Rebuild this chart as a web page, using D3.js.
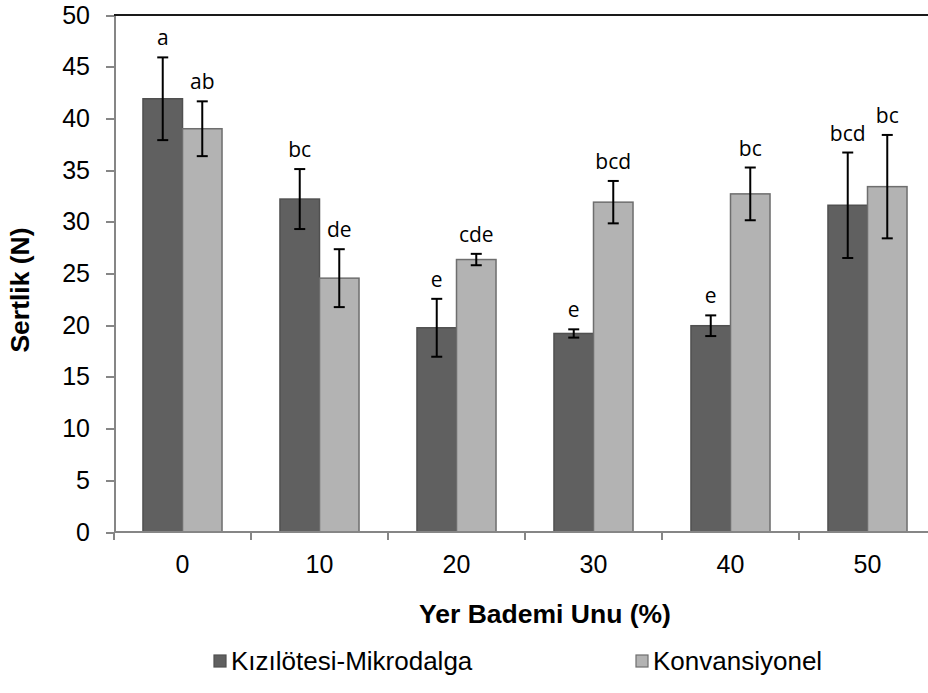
<!DOCTYPE html>
<html>
<meta charset="utf-8">
<style>
body {
  margin: 0;
  background: #fff;
}
svg {
  display: block;
  font-family: 'Liberation Sans', Arial, sans-serif;
}
.axis path, .axis line {
  stroke: #868686;
  stroke-width: 2;
  shape-rendering: crispEdges;
}
.axis text {
  font-size: 25px;
  fill: #000;
}
.title {
  font-size: 26.5px;
  font-weight: bold;
}
.letter {
  font-family: 'Open Sans', sans-serif;
  font-size: 21px;
}
.legend text {
  font-size: 26px;
}
.err {
  stroke: #000;
  stroke-width: 2;
}
</style>
<body>
<svg width="928" height="693"></svg>
<script src="https://cdnjs.cloudflare.com/ajax/libs/d3/7.8.5/d3.min.js"></script>
<script>

var categories = ["0", "10", "20", "30", "40", "50"];
var seriesNames = ["Kızılötesi-Mikrodalga", "Konvansiyonel"];

var mikrodalga = [41.9, 32.2, 19.75, 19.2, 19.95, 31.6];
var mikrodalgaErr = [4.0, 2.9, 2.8, 0.4, 1.0, 5.1];
var mikrodalgaLetters = ["a", "bc", "e", "e", "e", "bcd"];

var konvansiyonel = [39.0, 24.55, 26.35, 31.9, 32.7, 33.4];
var konvansiyonelErr = [2.65, 2.8, 0.55, 2.05, 2.55, 5.0];
var konvansiyonelLetters = ["ab", "de", "cde", "bcd", "bc", "bc"];

var yTicks = [0, 5, 10, 15, 20, 25, 30, 35, 40, 45, 50];

var colors = ["#606060", "#b3b3b3"];
var borders = ["#505050", "#6e6e6e"];

var svg = d3.select("svg"),
  margin = { top: 15, right: -8, bottom: 161, left: 114 },
  width = +svg.attr("width") - margin.left - margin.right,
  height = +svg.attr("height") - margin.top - margin.bottom;

var g = svg.append("g")
  .attr("transform", "translate(" + margin.left + "," + margin.top + ")");

var x = d3.scaleBand().domain(categories).range([0, width])
  .paddingInner(0.423).paddingOuter(0.2115);
var x1 = d3.scaleBand().domain(seriesNames).range([0, x.bandwidth()]);
var y = d3.scaleLinear().domain([0, 50]).range([height, 0]);

// one row per category, two bars in it
var rows = categories.map(function(c, i) {
  return [
    { cat: c, s: 0, name: seriesNames[0], v: mikrodalga[i], e: mikrodalgaErr[i], l: mikrodalgaLetters[i] },
    { cat: c, s: 1, name: seriesNames[1], v: konvansiyonel[i], e: konvansiyonelErr[i], l: konvansiyonelLetters[i] }
  ];
});

// top border of the plot area
g.append("line")
  .attr("x1", 0).attr("x2", width)
  .attr("y1", 0).attr("y2", 0)
  .attr("stroke", "#1a1a1a").attr("stroke-width", 2);

var groups = g.selectAll(null).data(rows).enter().append("g")
  .attr("transform", function(d) { return "translate(" + x(d[0].cat) + ",0)"; });

groups.selectAll("rect").data(function(d) { return d; }).enter().append("rect")
  .attr("x", function(d) { return x1(d.name); })
  .attr("y", function(d) { return y(d.v); })
  .attr("width", x1.bandwidth())
  .attr("height", function(d) { return height - y(d.v); })
  .attr("fill", function(d) { return colors[d.s]; })
  .attr("stroke", function(d) { return borders[d.s]; })
  .attr("stroke-width", 1.5);

// x axis: ticks at category boundaries
var xAxis = g.append("g").attr("class", "axis")
  .attr("transform", "translate(0," + height + ")");
xAxis.append("line").attr("x1", 0).attr("x2", width);
xAxis.selectAll("line.tk").data(d3.range(categories.length + 1)).enter().append("line")
  .attr("class", "tk")
  .attr("x1", function(i) { return i * x.step(); })
  .attr("x2", function(i) { return i * x.step(); })
  .attr("y1", 0).attr("y2", 8);
xAxis.selectAll("text").data(categories).enter().append("text")
  .attr("x", function(d) { return x(d) + x.bandwidth() / 2; })
  .attr("y", 23).attr("dy", "0.71em")
  .attr("text-anchor", "middle")
  .text(function(d) { return d; });

g.append("g").attr("class", "axis")
  .call(d3.axisLeft(y).tickValues(yTicks).tickSize(8).tickPadding(16).tickSizeOuter(0));

// error bars
var errs = groups.selectAll("g.e").data(function(d) { return d; }).enter().append("g")
  .attr("class", "err")
  .attr("transform", function(d) { return "translate(" + (x1(d.name) + x1.bandwidth() / 2) + ",0)"; });
errs.append("line")
  .attr("y1", function(d) { return y(d.v + d.e); })
  .attr("y2", function(d) { return y(d.v - d.e); });
errs.append("line")
  .attr("x1", -5.5).attr("x2", 5.5)
  .attr("y1", function(d) { return y(d.v + d.e); })
  .attr("y2", function(d) { return y(d.v + d.e); });
errs.append("line")
  .attr("x1", -5.5).attr("x2", 5.5)
  .attr("y1", function(d) { return y(d.v - d.e); })
  .attr("y2", function(d) { return y(d.v - d.e); });

// significance letters
groups.selectAll("text").data(function(d) { return d; }).enter().append("text")
  .attr("class", "letter")
  .attr("x", function(d) { return x1(d.name) + x1.bandwidth() / 2; })
  .attr("y", function(d) { return y(d.v + d.e) - 12; })
  .attr("text-anchor", "middle")
  .text(function(d) { return d.l; });

// axis titles
svg.append("text").attr("class", "title")
  .attr("transform", "translate(29,290) rotate(-90)")
  .attr("text-anchor", "middle")
  .text("Sertlik (N)");

svg.append("text").attr("class", "title")
  .attr("x", 545).attr("y", 623)
  .attr("text-anchor", "middle")
  .text("Yer Bademi Unu (%)");

// legend
var legendX = [214, 636];
var legend = svg.append("g").attr("class", "legend")
  .selectAll("g").data(seriesNames).enter().append("g")
  .attr("transform", function(d, i) { return "translate(" + legendX[i] + ",661)"; });
legend.append("rect")
  .attr("x", 0).attr("y", -6).attr("width", 12).attr("height", 12)
  .attr("fill", function(d, i) { return colors[i]; })
  .attr("stroke", function(d, i) { return borders[i]; })
  .attr("stroke-width", 1.2);
legend.append("text")
  .attr("x", 17).attr("dy", "0.35em")
  .text(function(d) { return d; });

</script>
</body>
</html>
